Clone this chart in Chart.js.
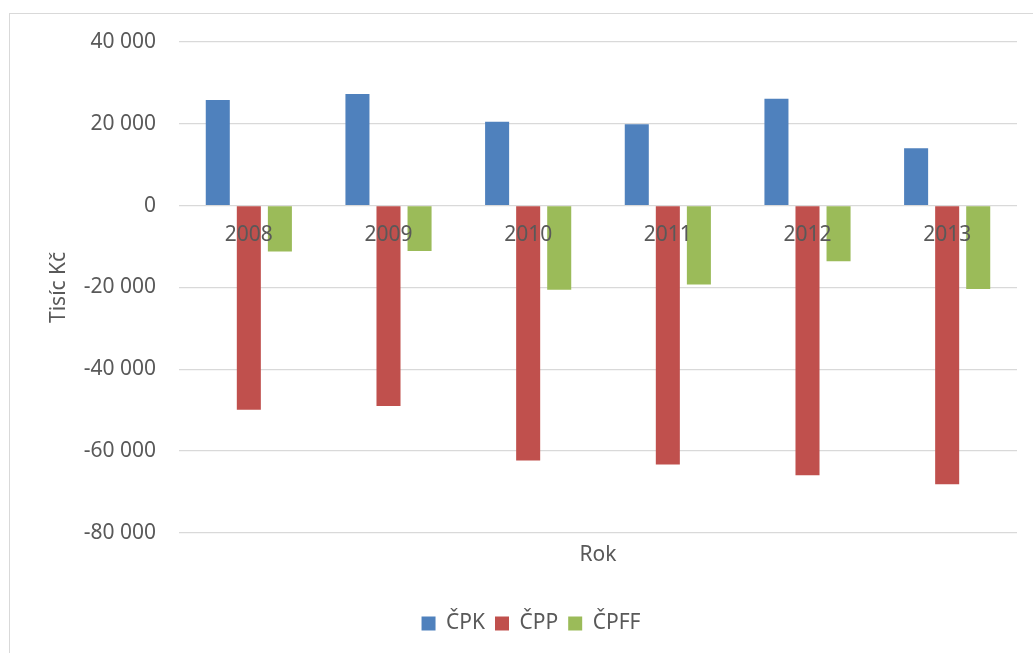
<!DOCTYPE html>
<html lang="cs">
<head>
<meta charset="utf-8">
<title>ČPK, ČPP, ČPFF 2008–2013</title>
<script src="https://cdn.jsdelivr.net/npm/chart.js@4/dist/chart.umd.min.js"></script>
<style>
  html, body { margin: 0; padding: 0; background: #ffffff; }
  canvas { display: block; }
</style>
</head>
<body>
<canvas id="chart" width="1033" height="653"></canvas>
<script>
// Years on the category axis
const years = ['2008', '2009', '2010', '2011', '2012', '2013'];

// Series values (tisíc Kč)
const cpk = [25800, 27300, 20500, 19900, 26100, 14000];
const cpp = [-49900, -49000, -62300, -63300, -65900, -68100];
const cpff = [-11200, -11100, -20600, -19300, -13600, -20400];

// Value axis range and step
const yMin = -80000;
const yMax = 40000;
const yStep = 20000;

const textColor = '#595959';
const gridColor = '#d9d9d9';
const fontFamily = '"Noto Sans", "Open Sans", sans-serif';

// Thousands grouped with a space: 40 000, -20 000
function formatThousands(v) {
  const sign = v < 0 ? '-' : '';
  const s = String(Math.abs(v));
  return sign + s.replace(/\B(?=(\d{3})+(?!\d))/g, ' ');
}

// White background and the light frame around the chart
const framePlugin = {
  id: 'frame',
  beforeDraw(chart) {
    const ctx = chart.ctx;
    ctx.save();
    ctx.fillStyle = '#ffffff';
    ctx.fillRect(0, 0, chart.width, chart.height);
    ctx.strokeStyle = gridColor;
    ctx.lineWidth = 1;
    ctx.strokeRect(9.5, 13.5, chart.width + 10, chart.height + 10);
    ctx.restore();
  }
};

new Chart(document.getElementById('chart'), {
  type: 'bar',
  data: {
    labels: years,
    datasets: [
      { label: 'ČPK', data: cpk, backgroundColor: '#4f81bd' },
      { label: 'ČPP', data: cpp, backgroundColor: '#c0504d' },
      { label: 'ČPFF', data: cpff, backgroundColor: '#9bbb59' }
    ]
  },
  options: {
    responsive: false,
    devicePixelRatio: 1,
    animation: false,
    categoryPercentage: 0.667,
    barPercentage: 0.774,
    layout: { padding: { left: 45, right: 16, top: 42, bottom: 9 } },
    font: { family: fontFamily },
    plugins: {
      tooltip: { enabled: false },
      legend: {
        position: 'bottom',
        labels: {
          boxWidth: 14,
          boxHeight: 14,
          padding: 10,
          color: textColor,
          font: { family: fontFamily, size: 21 }
        }
      }
    },
    scales: {
      x: {
        type: 'category',
        position: { y: 0 },
        grid: { display: false, drawTicks: false },
        border: { display: false },
        ticks: {
          z: 1, // year labels sit on top of the bars
          color: textColor,
          padding: 17,
          maxRotation: 0,
          font: { family: fontFamily, size: 21 }
        }
      },
      x2: {
        type: 'category',
        position: 'bottom',
        grid: { display: false, drawTicks: false },
        border: { display: false },
        ticks: { display: false },
        title: {
          display: true,
          text: 'Rok',
          color: textColor,
          padding: { top: 10, bottom: 35 },
          font: { family: fontFamily, size: 21 }
        }
      },
      y: {
        min: yMin,
        max: yMax,
        grid: { color: gridColor, lineWidth: 1.3, drawTicks: false },
        border: { display: false },
        ticks: {
          stepSize: yStep,
          padding: 23,
          color: textColor,
          font: { family: fontFamily, size: 21 },
          callback: (v) => formatThousands(v)
        },
        title: {
          display: true,
          text: 'Tisíc Kč',
          color: textColor,
          padding: { top: 1, bottom: 0 },
          font: { family: fontFamily, size: 21 }
        },
        afterFit(scale) { scale.width = 134; }
      }
    }
  },
  plugins: [framePlugin]
});
</script>
</body>
</html>
